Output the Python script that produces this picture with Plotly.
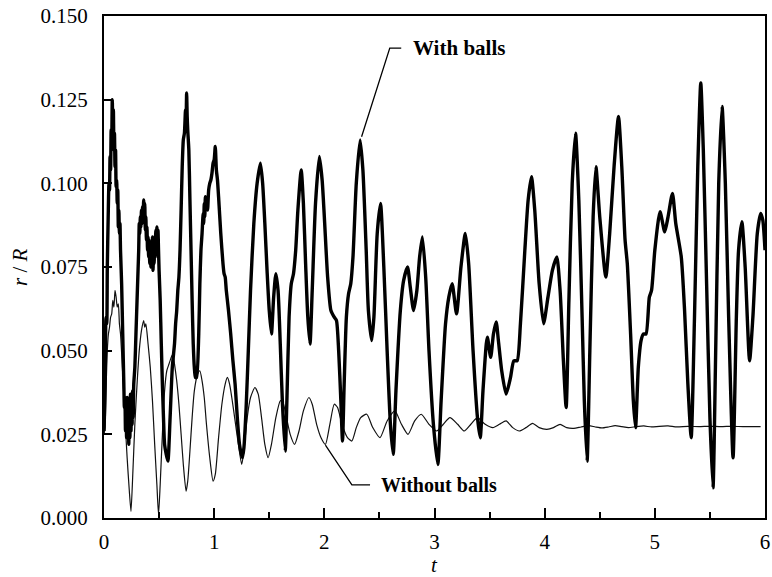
import plotly.graph_objects as go

# Time axis and radial deviation r/R, with balls (thick trace)
t_with = [0.0, 0.01, 0.018, 0.025, 0.03, 0.038, 0.045, 0.05, 0.055, 0.06, 0.065, 0.07, 0.075, 0.08,
          0.085, 0.09, 0.095, 0.10, 0.105, 0.11, 0.115, 0.12, 0.125, 0.13, 0.135, 0.14, 0.145, 0.15,
          0.16, 0.17, 0.18, 0.185, 0.19, 0.195, 0.20, 0.205, 0.21, 0.215, 0.22, 0.225, 0.23, 0.235,
          0.24, 0.245, 0.25, 0.255, 0.26, 0.265, 0.27, 0.28, 0.29, 0.30, 0.31, 0.315, 0.32, 0.325,
          0.33, 0.335, 0.34, 0.345, 0.35, 0.355, 0.36, 0.365, 0.37, 0.375, 0.38, 0.385, 0.39, 0.395,
          0.40, 0.405, 0.41, 0.415, 0.42, 0.425, 0.43, 0.435, 0.44, 0.445, 0.45, 0.455, 0.46, 0.465,
          0.47, 0.475, 0.48, 0.485, 0.49, 0.495, 0.50, 0.51, 0.52, 0.53, 0.54, 0.55, 0.565, 0.58,
          0.60, 0.62, 0.64, 0.65, 0.66, 0.67, 0.68, 0.69, 0.70, 0.71, 0.72, 0.73, 0.74, 0.745, 0.75,
          0.755, 0.76, 0.77, 0.78, 0.79, 0.80, 0.81, 0.82, 0.83, 0.84, 0.86, 0.87, 0.88, 0.89, 0.90,
          0.905, 0.91, 0.915, 0.92, 0.925, 0.93, 0.94, 0.95, 0.96, 0.97, 0.98, 0.99, 1.00, 1.01, 1.02,
          1.03, 1.04, 1.06, 1.08, 1.09, 1.10, 1.11, 1.13, 1.15, 1.17, 1.19, 1.21, 1.23, 1.255, 1.27,
          1.29, 1.31, 1.33, 1.36, 1.39, 1.42, 1.44, 1.46, 1.48, 1.50, 1.52, 1.54, 1.56, 1.58, 1.60,
          1.62, 1.645, 1.66, 1.68, 1.70, 1.72, 1.74, 1.76, 1.79, 1.81, 1.83, 1.85, 1.87, 1.89, 1.92,
          1.955, 1.98, 2.00, 2.03, 2.06, 2.09, 2.11, 2.13, 2.15, 2.165, 2.18, 2.20, 2.22, 2.24, 2.26,
          2.29, 2.325, 2.35, 2.38, 2.40, 2.43, 2.45, 2.48, 2.51, 2.54, 2.57, 2.60, 2.625, 2.65, 2.69,
          2.72, 2.755, 2.78, 2.81, 2.84, 2.865, 2.89, 2.92, 2.95, 2.99, 3.03, 3.06, 3.10, 3.13, 3.16,
          3.20, 3.24, 3.28, 3.31, 3.35, 3.39, 3.415, 3.44, 3.47, 3.48, 3.51, 3.535, 3.56, 3.58, 3.61,
          3.65, 3.69, 3.72, 3.75, 3.78, 3.82, 3.85, 3.88, 3.91, 3.95, 3.99, 4.03, 4.07, 4.11, 4.14,
          4.17, 4.195, 4.22, 4.25, 4.28, 4.31, 4.34, 4.36, 4.385, 4.41, 4.44, 4.465, 4.50, 4.555,
          4.59, 4.63, 4.67, 4.70, 4.73, 4.75, 4.78, 4.805, 4.825, 4.85, 4.875, 4.897, 4.92, 4.95,
          4.97, 5.00, 5.047, 5.09, 5.12, 5.16, 5.19, 5.24, 5.27, 5.30, 5.33, 5.36, 5.39, 5.417, 5.44,
          5.47, 5.50, 5.528, 5.55, 5.58, 5.61, 5.64, 5.67, 5.71, 5.74, 5.76, 5.79, 5.82, 5.86, 5.89,
          5.93, 5.96, 5.98, 6.00]
r_with = [0.026, 0.040, 0.060, 0.058, 0.075, 0.090, 0.100, 0.098, 0.108, 0.104, 0.116, 0.112, 0.125, 0.118,
          0.122, 0.110, 0.115, 0.105, 0.110, 0.099, 0.101, 0.094, 0.098, 0.087, 0.092, 0.085, 0.088, 0.080,
          0.070, 0.055, 0.040, 0.033, 0.036, 0.026, 0.034, 0.024, 0.036, 0.025, 0.035, 0.022, 0.034, 0.024,
          0.037, 0.026, 0.036, 0.028, 0.038, 0.030, 0.040, 0.045, 0.055, 0.065, 0.075, 0.080, 0.088, 0.085,
          0.090, 0.087, 0.092, 0.088, 0.093, 0.089, 0.095, 0.090, 0.094, 0.086, 0.090, 0.083, 0.087, 0.080,
          0.084, 0.078, 0.083, 0.076, 0.081, 0.075, 0.082, 0.077, 0.084, 0.074, 0.080, 0.076, 0.083, 0.078,
          0.086, 0.080, 0.087, 0.082, 0.086, 0.080, 0.074, 0.065, 0.052, 0.040, 0.030, 0.022, 0.019, 0.017,
          0.030, 0.045, 0.052, 0.058, 0.062, 0.068, 0.072, 0.080, 0.092, 0.105, 0.113, 0.115, 0.122, 0.118, 0.127,
          0.120, 0.116, 0.110, 0.095, 0.080, 0.065, 0.052, 0.045, 0.042, 0.042, 0.055, 0.070, 0.080, 0.085, 0.091,
          0.088, 0.094, 0.090, 0.096, 0.092, 0.095, 0.092, 0.098, 0.100, 0.101, 0.103, 0.106, 0.107, 0.111, 0.104,
          0.101, 0.096, 0.085, 0.076, 0.073, 0.072, 0.068, 0.062, 0.055, 0.047, 0.040, 0.030, 0.022, 0.018, 0.021,
          0.033, 0.050, 0.068, 0.088, 0.100, 0.106, 0.100, 0.088, 0.074, 0.062, 0.055, 0.066, 0.073, 0.068, 0.052,
          0.034, 0.020, 0.035, 0.060, 0.070, 0.073, 0.080, 0.092, 0.104, 0.094, 0.076, 0.060, 0.052, 0.068, 0.094,
          0.108, 0.101, 0.090, 0.072, 0.062, 0.060, 0.059, 0.050, 0.035, 0.023, 0.040, 0.060, 0.067, 0.070, 0.078,
          0.100, 0.113, 0.104, 0.080, 0.062, 0.053, 0.060, 0.085, 0.094, 0.075, 0.050, 0.028, 0.019, 0.038, 0.062,
          0.071, 0.075, 0.069, 0.062, 0.068, 0.078, 0.084, 0.072, 0.050, 0.028, 0.016, 0.035, 0.058, 0.066, 0.070,
          0.061, 0.075, 0.085, 0.076, 0.050, 0.030, 0.024, 0.038, 0.052, 0.054, 0.048, 0.055, 0.0586, 0.053, 0.044,
          0.037, 0.042, 0.047, 0.047, 0.058, 0.080, 0.095, 0.102, 0.092, 0.070, 0.058, 0.066, 0.074, 0.078, 0.068,
          0.047, 0.033, 0.065, 0.100, 0.115, 0.095, 0.060, 0.035, 0.017, 0.050, 0.090, 0.105, 0.090, 0.072,
          0.085, 0.105, 0.120, 0.105, 0.083, 0.076, 0.055, 0.035, 0.027, 0.045, 0.053, 0.055, 0.055, 0.066,
          0.068, 0.080, 0.0915, 0.0855, 0.090, 0.097, 0.088, 0.078, 0.062, 0.040, 0.024, 0.060, 0.105, 0.130, 0.110,
          0.070, 0.030, 0.009, 0.045, 0.100, 0.123, 0.100, 0.060, 0.018, 0.060, 0.080, 0.0885, 0.075, 0.047, 0.060,
          0.085, 0.091, 0.089, 0.080]

# Without balls (thin trace)
t_without = [0.0, 0.01, 0.02, 0.03, 0.04, 0.05, 0.06, 0.07, 0.08, 0.09, 0.10, 0.11, 0.12, 0.13, 0.14,
             0.15, 0.17, 0.19, 0.21, 0.23, 0.245, 0.26, 0.28, 0.30, 0.32, 0.34, 0.36, 0.37, 0.38, 0.40,
             0.42, 0.44, 0.46, 0.48, 0.495, 0.51, 0.53, 0.55, 0.57, 0.59, 0.61, 0.625, 0.64, 0.66, 0.68,
             0.70, 0.72, 0.745, 0.76, 0.78, 0.80, 0.82, 0.85, 0.87, 0.89, 0.91, 0.93, 0.96, 0.99, 1.01,
             1.04, 1.07, 1.10, 1.12, 1.14, 1.16, 1.19, 1.22, 1.25, 1.27, 1.30, 1.33, 1.37, 1.40, 1.43,
             1.46, 1.49, 1.52, 1.56, 1.60, 1.62, 1.65, 1.69, 1.73, 1.77, 1.81, 1.86, 1.89, 1.93, 1.97,
             2.01, 2.05, 2.09, 2.12, 2.16, 2.21, 2.25, 2.29, 2.33, 2.385, 2.44, 2.505, 2.57, 2.64, 2.70,
             2.76, 2.82, 2.88, 2.95, 3.02, 3.08, 3.14, 3.21, 3.27, 3.33, 3.39, 3.46, 3.53, 3.59, 3.65,
             3.71, 3.77, 3.83, 3.89, 3.95, 4.02, 4.08, 4.14, 4.20, 4.265, 4.33, 4.40, 4.46, 4.52, 4.58,
             4.64, 4.70, 4.76, 4.83, 4.90, 4.97, 5.04, 5.12, 5.20, 5.30, 5.40, 5.50, 5.60, 5.70, 5.80, 5.96]
r_without = [0.025, 0.027, 0.040, 0.050, 0.055, 0.057, 0.060, 0.061, 0.065, 0.063, 0.068, 0.066, 0.063, 0.064, 0.058,
             0.055, 0.043, 0.030, 0.018, 0.008, 0.002, 0.012, 0.028, 0.040, 0.050, 0.056, 0.059, 0.057, 0.058, 0.052,
             0.045, 0.035, 0.022, 0.010, 0.001, 0.010, 0.025, 0.038, 0.044, 0.046, 0.048, 0.049, 0.046, 0.041, 0.034,
             0.025, 0.016, 0.008, 0.011, 0.020, 0.030, 0.038, 0.043, 0.044, 0.041, 0.036, 0.028, 0.018, 0.011, 0.013,
             0.024, 0.034, 0.040, 0.042, 0.040, 0.036, 0.029, 0.022, 0.016, 0.020, 0.030, 0.036, 0.039, 0.037, 0.030,
             0.022, 0.018, 0.022, 0.030, 0.035, 0.035, 0.031, 0.025, 0.022, 0.026, 0.032, 0.036, 0.034, 0.028, 0.024,
             0.022, 0.028, 0.034, 0.033, 0.028, 0.024, 0.023, 0.027, 0.030, 0.031, 0.027, 0.024, 0.029, 0.032, 0.028,
             0.025, 0.029, 0.031, 0.028, 0.026, 0.028, 0.030, 0.028, 0.026, 0.028, 0.030, 0.028, 0.027, 0.028, 0.029,
             0.027, 0.026, 0.027, 0.0283, 0.027, 0.0265, 0.027, 0.028, 0.027, 0.0268, 0.0272, 0.0276, 0.0272, 0.0269, 0.0272,
             0.0276, 0.0273, 0.0270, 0.0273, 0.0275, 0.0272, 0.0274, 0.0275, 0.0272, 0.0274, 0.0273, 0.0274, 0.0273, 0.0274, 0.0273, 0.0273]

# Callout leader lines and label anchors
with_leader_t = [2.338, 2.594, 2.698]
with_leader_r = [0.1139, 0.1404, 0.1404]
without_leader_t = [2.01, 2.25, 2.415]
without_leader_r = [0.0218, 0.0099, 0.0099]

x_ticks = [0, 1, 2, 3, 4, 5, 6]
y_ticks = [0.0, 0.025, 0.05, 0.075, 0.1, 0.125, 0.15]
y_tick_text = ["0.000", "0.025", "0.050", "0.075", "0.100", "0.125", "0.150"]

SERIF = "Liberation Serif, Times New Roman, serif"

fig = go.Figure()
fig.add_trace(go.Scatter(x=t_without, y=r_without, mode="lines",
                         line=dict(color="#111", width=1.2, shape="spline", smoothing=0.6),
                         name="Without balls", showlegend=False))
fig.add_trace(go.Scatter(x=t_with, y=r_with, mode="lines",
                         line=dict(color="#000", width=3.4, shape="spline", smoothing=0.6),
                         name="With balls", showlegend=False))
fig.add_trace(go.Scatter(x=with_leader_t, y=with_leader_r, mode="lines",
                         line=dict(color="#000", width=1.3), showlegend=False, hoverinfo="skip"))
fig.add_trace(go.Scatter(x=without_leader_t, y=without_leader_r, mode="lines",
                         line=dict(color="#000", width=1.3), showlegend=False, hoverinfo="skip"))

fig.add_annotation(x=with_leader_t[-1], y=with_leader_r[-1], text="<b>With balls</b>",
                   showarrow=False, xanchor="left", yanchor="middle", xshift=10,
                   font=dict(family=SERIF, size=21, color="#000"))
fig.add_annotation(x=without_leader_t[-1], y=without_leader_r[-1], text="<b>Without balls</b>",
                   showarrow=False, xanchor="left", yanchor="middle", xshift=9,
                   font=dict(family=SERIF, size=20, color="#000"))

# Axis titles
fig.add_annotation(xref="paper", yref="paper", x=-0.127, y=0.5, text="<i>r</i> / <i>R</i>",
                   textangle=-90, showarrow=False, xanchor="center", yanchor="middle",
                   font=dict(family=SERIF, size=21, color="#000"))
fig.add_annotation(xref="paper", yref="paper", x=0.5, y=-0.094, text="<i>t</i>",
                   showarrow=False, xanchor="center", yanchor="middle",
                   font=dict(family=SERIF, size=21, color="#000"))

fig.update_xaxes(range=[0, 6], tickvals=x_ticks, ticks="inside", ticklen=10, tickwidth=2,
                 tickcolor="#000", showline=True, linecolor="#000", linewidth=2, mirror=True,
                 showgrid=False, zeroline=False, ticklabeloverflow="allow", ticklabelstandoff=4,
                 automargin=False,
                 minor=dict(dtick=0.5, ticks="inside", ticklen=6, tickwidth=2, tickcolor="#000",
                            showgrid=False),
                 tickfont=dict(family=SERIF, size=21, color="#000"))
fig.update_yaxes(range=[0, 0.15], tickvals=y_ticks, ticktext=y_tick_text, ticks="inside",
                 ticklen=8, tickwidth=2, tickcolor="#000", showline=True, linecolor="#000",
                 linewidth=2, mirror=True, showgrid=False, zeroline=False,
                 ticklabelstandoff=10, automargin=False,
                 tickfont=dict(family=SERIF, size=21, color="#000"))

fig.update_layout(width=772, height=577, margin=dict(l=104, r=7, t=16, b=59),
                  paper_bgcolor="#fff", plot_bgcolor="#fff", showlegend=False)

fig.write_html("out.html")
